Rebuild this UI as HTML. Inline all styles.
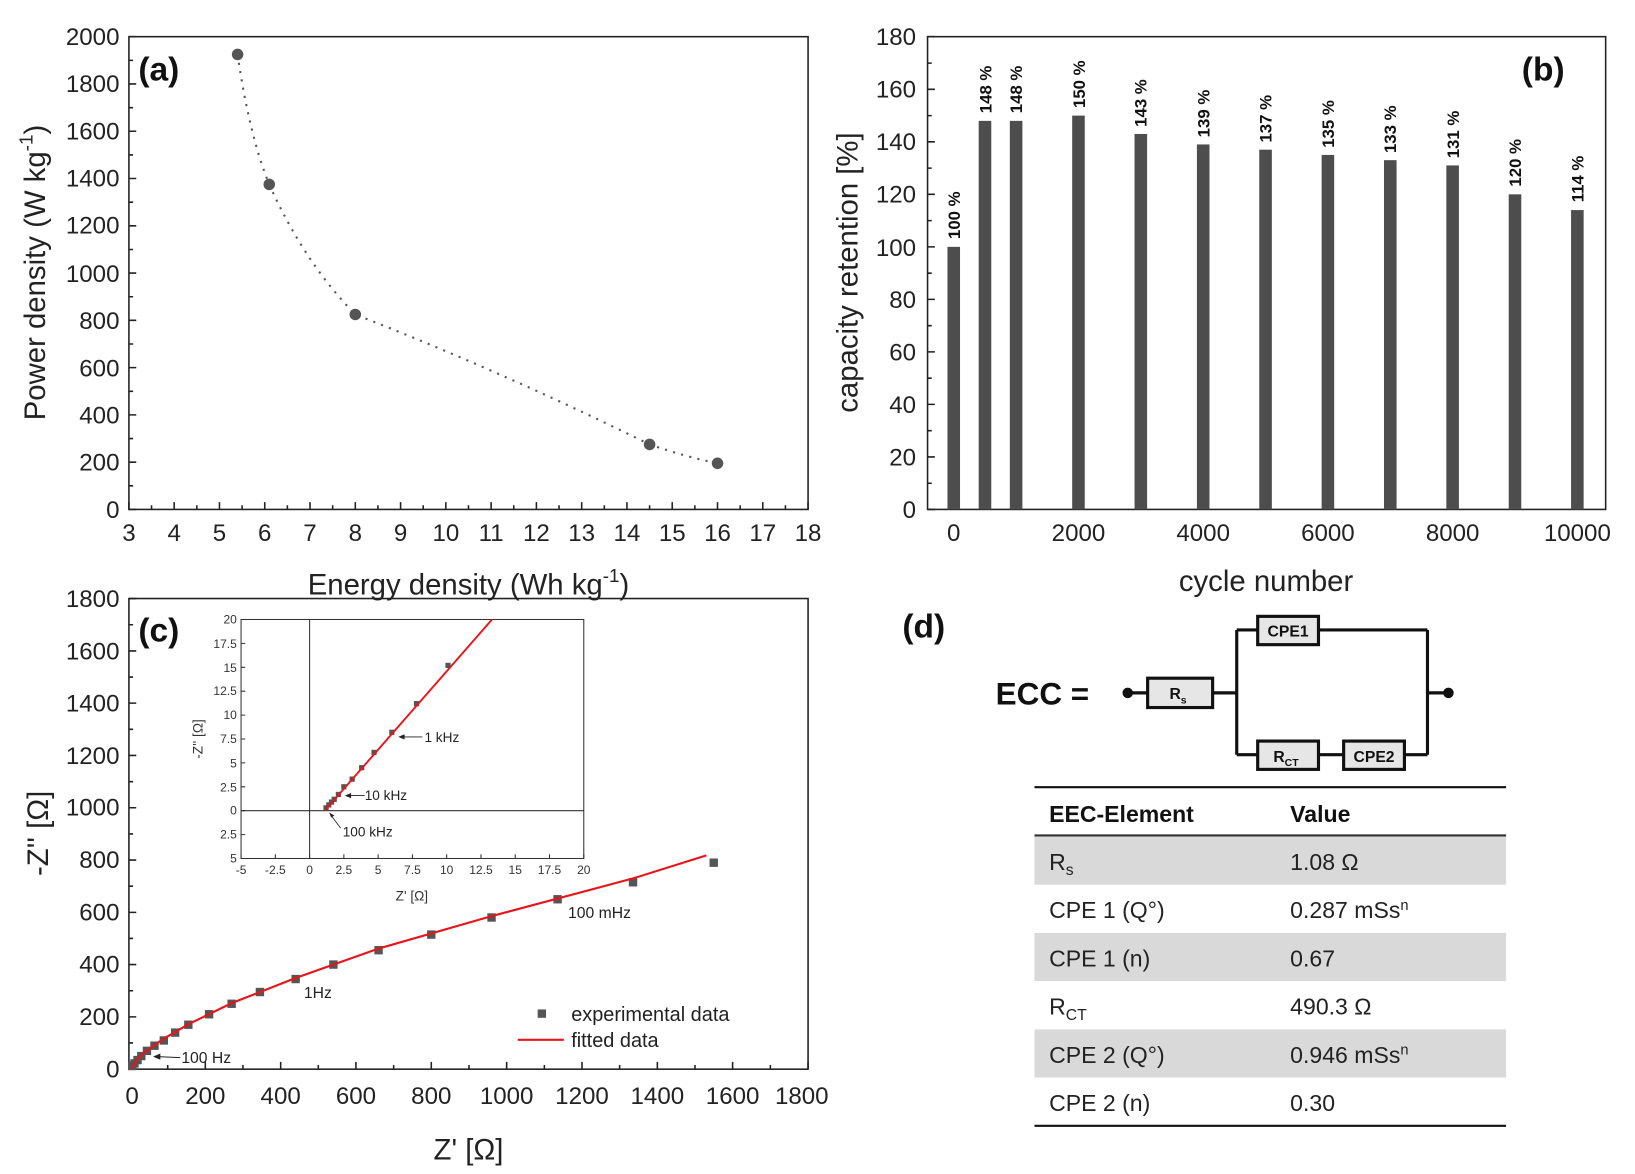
<!DOCTYPE html>
<html><head><meta charset="utf-8"><style>html,body{margin:0;padding:0;background:#fff}svg{display:block}text{font-family:"Liberation Sans",Arial,sans-serif}</style></head>
<body>
<svg width="1635" height="1174" viewBox="0 0 1560 1120" preserveAspectRatio="none" xmlns="http://www.w3.org/2000/svg">
<rect width="1560" height="1120" fill="#fff"/>
<!-- Panel a -->
<g>
<rect x="123" y="35" width="648" height="451" fill="none" stroke="#222" stroke-width="1.5"/>
<g stroke="#222" stroke-width="1.5">
<path d="M123,486v-7M166.2,486v-7M209.4,486v-7M252.6,486v-7M295.8,486v-7M339,486v-7M382.2,486v-7M425.4,486v-7M468.6,486v-7M511.8,486v-7M555,486v-7M598.2,486v-7M641.4,486v-7M684.6,486v-7M727.8,486v-7M771,486v-7"/>
<path d="M144.6,486v-4M187.8,486v-4M231,486v-4M274.2,486v-4M317.4,486v-4M360.6,486v-4M403.8,486v-4M447,486v-4M490.2,486v-4M533.4,486v-4M576.6,486v-4M619.8,486v-4M663,486v-4M706.2,486v-4M749.4,486v-4"/>
<path d="M123,486h7M123,440.9h7M123,395.8h7M123,350.7h7M123,305.6h7M123,260.5h7M123,215.4h7M123,170.3h7M123,125.2h7M123,80.1h7M123,35h7"/>
<path d="M123,463.5h4M123,418.4h4M123,373.3h4M123,328.2h4M123,283.1h4M123,238h4M123,192.9h4M123,147.8h4M123,102.7h4M123,57.6h4"/>
</g>
<g font-size="23" text-anchor="end" fill="#222">
<text x="114" y="494">0</text><text x="114" y="449">200</text><text x="114" y="404">400</text><text x="114" y="359">600</text><text x="114" y="314">800</text><text x="114" y="269">1000</text><text x="114" y="223">1200</text><text x="114" y="178">1400</text><text x="114" y="133">1600</text><text x="114" y="88">1800</text><text x="114" y="43">2000</text>
</g>
<g font-size="23" text-anchor="middle" fill="#222">
<text x="123" y="516">3</text><text x="166.2" y="516">4</text><text x="209.4" y="516">5</text><text x="252.6" y="516">6</text><text x="295.8" y="516">7</text><text x="339" y="516">8</text><text x="382.2" y="516">9</text><text x="425.4" y="516">10</text><text x="468.6" y="516">11</text><text x="511.8" y="516">12</text><text x="555" y="516">13</text><text x="598.2" y="516">14</text><text x="641.4" y="516">15</text><text x="684.6" y="516">16</text><text x="727.8" y="516">17</text><text x="771" y="516">18</text>
</g>
<path d="M226.7,51.9 Q238,130 256.9,175.9 Q290,250 339,300 Q480,355 619.8,424 Q655,436 684.6,442" fill="none" stroke="#555" stroke-width="2" stroke-dasharray="2,6"/>
<g fill="#555"><circle cx="226.7" cy="51.9" r="5.5"/><circle cx="256.9" cy="175.9" r="5.5"/><circle cx="339" cy="300" r="5.5"/><circle cx="619.8" cy="424" r="5.5"/><circle cx="684.6" cy="442" r="5.5"/></g>
<text x="132" y="77" font-size="32" font-weight="bold" fill="#111">(a)</text>
<text transform="translate(43,260) rotate(-90)" font-size="28" text-anchor="middle" fill="#222">Power density (W kg<tspan dy="-12" font-size="18">-1</tspan><tspan dy="12">)</tspan></text>
<text x="447" y="567" font-size="28" text-anchor="middle" fill="#222">Energy density (Wh kg<tspan dy="-12" font-size="18">-1</tspan><tspan dy="12">)</tspan></text>
</g>
<!-- Panel b -->
<g>
<rect x="885" y="35" width="647" height="451" fill="none" stroke="#222" stroke-width="1.5"/>
<g stroke="#222" stroke-width="1.5">
<path d="M885,486h7M885,435.9h7M885,385.8h7M885,335.7h7M885,285.6h7M885,235.5h7M885,185.4h7M885,135.3h7M885,85.2h7M885,35h7"/>
<path d="M885,461h4M885,410.9h4M885,360.8h4M885,310.7h4M885,260.6h4M885,210.5h4M885,160.4h4M885,110.3h4M885,60.2h4"/>
</g>
<g font-size="23" text-anchor="end" fill="#222">
<text x="874" y="494">0</text><text x="874" y="444">20</text><text x="874" y="394">40</text><text x="874" y="344">60</text><text x="874" y="294">80</text><text x="874" y="244">100</text><text x="874" y="193">120</text><text x="874" y="143">140</text><text x="874" y="93">160</text><text x="874" y="43">180</text>
</g>
<g font-size="23" text-anchor="middle" fill="#222">
<text x="910" y="516">0</text><text x="1029" y="516">2000</text><text x="1148" y="516">4000</text><text x="1267" y="516">6000</text><text x="1386" y="516">8000</text><text x="1505" y="516">10000</text>
</g>
<g fill="#4d4d4d">
<rect x="904" y="235.5" width="12" height="250.5"/>
<rect x="933.8" y="115.3" width="12" height="370.7"/>
<rect x="963.5" y="115.3" width="12" height="370.7"/>
<rect x="1023" y="110.3" width="12" height="375.7"/>
<rect x="1082.5" y="127.8" width="12" height="358.2"/>
<rect x="1142" y="137.8" width="12" height="348.2"/>
<rect x="1201.5" y="142.8" width="12" height="343.2"/>
<rect x="1261" y="147.8" width="12" height="338.2"/>
<rect x="1320.5" y="152.8" width="12" height="333.2"/>
<rect x="1380" y="157.8" width="12" height="328.2"/>
<rect x="1439.5" y="185.4" width="12" height="300.6"/>
<rect x="1499" y="200.4" width="12" height="285.6"/>
</g>
<g font-size="16" font-weight="bold" fill="#111">
<text transform="translate(916,228) rotate(-90)">100 %</text>
<text transform="translate(946,108) rotate(-90)">148 %</text>
<text transform="translate(975,108) rotate(-90)">148 %</text>
<text transform="translate(1035,103) rotate(-90)">150 %</text>
<text transform="translate(1094,121) rotate(-90)">143 %</text>
<text transform="translate(1154,131) rotate(-90)">139 %</text>
<text transform="translate(1213,136) rotate(-90)">137 %</text>
<text transform="translate(1273,141) rotate(-90)">135 %</text>
<text transform="translate(1332,146) rotate(-90)">133 %</text>
<text transform="translate(1392,151) rotate(-90)">131 %</text>
<text transform="translate(1451,178) rotate(-90)">120 %</text>
<text transform="translate(1511,193) rotate(-90)">114 %</text>
</g>
<text x="1452" y="77" font-size="32" font-weight="bold" fill="#111">(b)</text>
<text transform="translate(818,260) rotate(-90)" font-size="28" text-anchor="middle" fill="#222">capacity retention [%]</text>
<text x="1208" y="564" font-size="28" text-anchor="middle" fill="#222">cycle number</text>
</g>
<!-- Panel c -->
<g>
<rect x="123" y="571" width="648" height="449" fill="none" stroke="#222" stroke-width="1.5"/>
<g stroke="#222" stroke-width="1.5">
<path d="M124,1020v-7M195.9,1020v-7M267.8,1020v-7M339.6,1020v-7M411.5,1020v-7M483.4,1020v-7M555.3,1020v-7M627.2,1020v-7M699,1020v-7M771,1020v-7"/>
<path d="M160,1020v-4M231.8,1020v-4M303.7,1020v-4M375.6,1020v-4M447.5,1020v-4M519.4,1020v-4M591.2,1020v-4M663.1,1020v-4M735,1020v-4"/>
<path d="M123,1020h7M123,970.1h7M123,920.2h7M123,870.4h7M123,820.5h7M123,770.6h7M123,720.7h7M123,670.8h7M123,621h7M123,571h7"/>
<path d="M123,995h4M123,945.2h4M123,895.3h4M123,845.4h4M123,795.6h4M123,745.7h4M123,695.8h4M123,645.9h4M123,596h4"/>
</g>
<g font-size="23" text-anchor="end" fill="#222">
<text x="114" y="1028">0</text><text x="114" y="978">200</text><text x="114" y="928">400</text><text x="114" y="878">600</text><text x="114" y="828">800</text><text x="114" y="778">1000</text><text x="114" y="729">1200</text><text x="114" y="679">1400</text><text x="114" y="629">1600</text><text x="114" y="579">1800</text>
</g>
<g font-size="23" text-anchor="middle" fill="#222">
<text x="126" y="1053">0</text><text x="195.9" y="1053">200</text><text x="267.8" y="1053">400</text><text x="339.6" y="1053">600</text><text x="411.5" y="1053">800</text><text x="483.4" y="1053">1000</text><text x="555.3" y="1053">1200</text><text x="627.2" y="1053">1400</text><text x="699" y="1053">1600</text><text x="765" y="1053">1800</text>
</g>
<g fill="#555">
<rect x="677" y="819" width="8" height="8"/><rect x="600" y="837.7" width="8" height="8"/><rect x="528" y="853.9" width="8" height="8"/><rect x="465" y="871.3" width="8" height="8"/><rect x="407.5" y="887.6" width="8" height="8"/><rect x="357.2" y="902.5" width="8" height="8"/><rect x="314.1" y="916.2" width="8" height="8"/><rect x="278.1" y="930" width="8" height="8"/><rect x="244" y="942.4" width="8" height="8"/><rect x="217" y="953.6" width="8" height="8"/><rect x="195.5" y="963.6" width="8" height="8"/><rect x="175.7" y="973.6" width="8" height="8"/><rect x="163.1" y="981.1" width="8" height="8"/><rect x="152.3" y="988.6" width="8" height="8"/><rect x="143.4" y="993.6" width="8" height="8"/><rect x="136.2" y="998.5" width="8" height="8"/><rect x="130.8" y="1003.5" width="8" height="8"/><rect x="127.2" y="1007.3" width="8" height="8"/><rect x="124.3" y="1010.5" width="8" height="8"/><rect x="122.2" y="1013" width="8" height="8"/>
</g>
<path d="M125,1020 L130,1011 L140,1002 L156,991 L180,977 L221,957 L282,933 L361,905 L469,874 L604,838 L674,816" fill="none" stroke="#e8141a" stroke-width="2"/>
<g font-size="15" fill="#222">
<text x="290" y="952">1Hz</text><text x="542" y="876">100 mHz</text><text x="173" y="1014">100 Hz</text>
</g>
<path d="M172,1009 L150,1008" stroke="#222" stroke-width="1"/><path d="M146,1008 l7,-3 v6z" fill="#222"/>
<rect x="513" y="963" width="8" height="8" fill="#555"/>
<text x="545" y="974" font-size="19" fill="#222">experimental data</text>
<path d="M494,992 H538" stroke="#e8141a" stroke-width="2"/>
<text x="545" y="999" font-size="19" fill="#222">fitted data</text>
<text x="132" y="612" font-size="32" font-weight="bold" fill="#111">(c)</text>
<text transform="translate(46,795) rotate(-90)" font-size="28" text-anchor="middle" fill="#222">-Z'' [Ω]</text>
<text x="447" y="1106" font-size="28" text-anchor="middle" fill="#222">Z' [Ω]</text>
<!-- inset -->
<rect x="230" y="591" width="327" height="228" fill="#fff" stroke="#333" stroke-width="1"/>
<path d="M295.4,591V819M230,773.4H557" stroke="#333" stroke-width="1"/>
<g stroke="#333" stroke-width="1">
<path d="M230,819v-4M262.7,819v-4M295.4,819v-4M328.1,819v-4M360.8,819v-4M393.5,819v-4M426.2,819v-4M458.9,819v-4M491.6,819v-4M524.3,819v-4M557,819v-4"/>
<path d="M230,591h4M230,613.8h4M230,636.6h4M230,659.4h4M230,682.2h4M230,705h4M230,727.8h4M230,750.6h4M230,773.4h4M230,796.2h4M230,819h4"/>
</g>
<g font-size="11.5" text-anchor="end" fill="#333">
<text x="226" y="595">20</text><text x="226" y="618">17.5</text><text x="226" y="641">15</text><text x="226" y="663">12.5</text><text x="226" y="686">10</text><text x="226" y="709">7.5</text><text x="226" y="732">5</text><text x="226" y="755">2.5</text><text x="226" y="777">0</text><text x="226" y="800">2.5</text><text x="226" y="823">5</text>
</g>
<g font-size="11.5" text-anchor="middle" fill="#333">
<text x="230" y="834">-5</text><text x="262.7" y="834">-2.5</text><text x="295.4" y="834">0</text><text x="328.1" y="834">2.5</text><text x="360.8" y="834">5</text><text x="393.5" y="834">7.5</text><text x="426.2" y="834">10</text><text x="458.9" y="834">12.5</text><text x="491.6" y="834">15</text><text x="524.3" y="834">17.5</text><text x="557" y="834">20</text>
</g>
<text x="393" y="859" font-size="13" text-anchor="middle" fill="#333">Z' [Ω]</text>
<text transform="translate(193,705) rotate(-90)" font-size="13" text-anchor="middle" fill="#333">-Z'' [Ω]</text>
<g fill="#555">
<rect x="308.6" y="768.2" width="5" height="5"/><rect x="311.2" y="765.4" width="5" height="5"/><rect x="313.8" y="762.7" width="5" height="5"/><rect x="316.4" y="760" width="5" height="5"/><rect x="320.4" y="755.4" width="5" height="5"/><rect x="325.6" y="748.1" width="5" height="5"/><rect x="333.5" y="740.8" width="5" height="5"/><rect x="342.6" y="729.9" width="5" height="5"/><rect x="354.4" y="715.3" width="5" height="5"/><rect x="371.4" y="696.1" width="5" height="5"/><rect x="394.9" y="668.8" width="5" height="5"/><rect x="425" y="632.3" width="5" height="5"/>
</g>
<path d="M309.8,773.4 L469.4,591" stroke="#e8141a" stroke-width="1.8"/>
<g font-size="13" fill="#222"><text x="405" y="708">1 kHz</text><text x="348" y="763">10 kHz</text><text x="327" y="798">100 kHz</text></g>
<g stroke="#222" stroke-width="0.8"><path d="M403,703 H383M348,759 H332M325,790 L316,778"/></g>
<g fill="#222"><path d="M380,703 l6,-2.5 v5z"/><path d="M329,759 l6,-2.5 v5z"/><path d="M314,775 l5,3 -3,2z"/></g>
</g>
<!-- Panel d -->
<g>
<text x="861" y="608" font-size="32" font-weight="bold" fill="#111">(d)</text>
<text x="950" y="672" font-size="30" font-weight="bold" fill="#111">ECC =</text>
<g stroke="#111" stroke-width="3" fill="none">
<path d="M1076,661 H1095M1157,661 H1180M1180,601 V720M1180,601 H1200M1258,601 H1362M1180,720 H1200M1258,720 H1282M1340,720 H1362M1362,601 V720M1362,661 H1382"/>
</g>
<circle cx="1076" cy="661" r="5" fill="#111"/><circle cx="1382" cy="661" r="5" fill="#111"/>
<g fill="#e6e6e6" stroke="#111" stroke-width="3">
<rect x="1095" y="647" width="62" height="28"/><rect x="1200" y="588" width="58" height="27"/><rect x="1200" y="707" width="58" height="27"/><rect x="1282" y="707" width="58" height="27"/>
</g>
<g font-size="15" font-weight="bold" fill="#111" text-anchor="middle">
<text x="1124" y="667">R<tspan font-size="10" dy="4">s</tspan></text>
<text x="1229" y="607">CPE1</text>
<text x="1227" y="727">R<tspan font-size="10" dy="4">CT</tspan></text>
<text x="1311" y="727">CPE2</text>
</g>
<rect x="987" y="798" width="450" height="46" fill="#d9d9d9"/>
<rect x="987" y="890" width="450" height="46" fill="#d9d9d9"/>
<rect x="987" y="982" width="450" height="46" fill="#d9d9d9"/>
<path d="M987,751 H1437M987,1074 H1437" stroke="#111" stroke-width="2"/>
<path d="M987,797 H1437" stroke="#333" stroke-width="2"/>
<g font-size="22" fill="#111" font-weight="bold"><text x="1001" y="784">EEC-Element</text><text x="1231" y="784">Value</text></g>
<g font-size="22" fill="#222">
<text x="1001" y="830">R<tspan font-size="15" dy="5">s</tspan></text><text x="1231" y="830">1.08 Ω</text>
<text x="1001" y="876">CPE 1 (Q°)</text><text x="1231" y="876">0.287 mSs<tspan font-size="14" dy="-8">n</tspan></text>
<text x="1001" y="922">CPE 1 (n)</text><text x="1231" y="922">0.67</text>
<text x="1001" y="968">R<tspan font-size="15" dy="5">CT</tspan></text><text x="1231" y="968">490.3 Ω</text>
<text x="1001" y="1014">CPE 2 (Q°)</text><text x="1231" y="1014">0.946 mSs<tspan font-size="14" dy="-8">n</tspan></text>
<text x="1001" y="1060">CPE 2 (n)</text><text x="1231" y="1060">0.30</text>
</g>
</g>
</svg>
</body></html>
